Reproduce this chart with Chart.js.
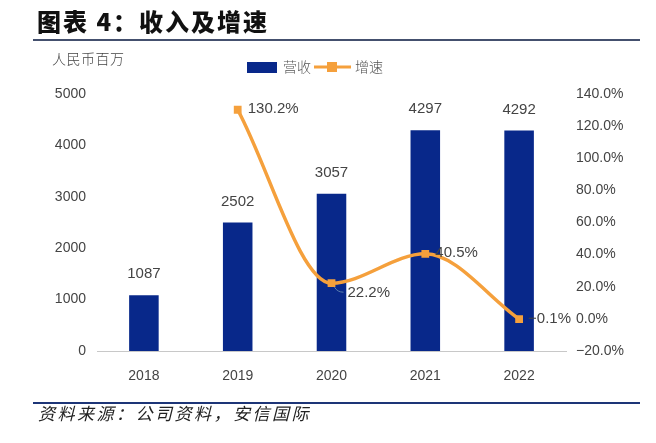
<!DOCTYPE html>
<html>
<head>
<meta charset="utf-8">
<script src="https://cdn.jsdelivr.net/npm/chart.js@4"></script>
<style>
  html, body { margin: 0; padding: 0; background: #fff; }
  #wrap { position: relative; width: 656px; height: 443px; overflow: hidden; }
  #chart { position: absolute; left: 0; top: 0; }
  .title { position: absolute; left: 37px; top: 4px; font: 900 24px "Noto Sans CJK SC"; color: #111; letter-spacing: 2px; line-height: 34px; }
  .rule { position: absolute; left: 33px; width: 607px; height: 2px; }
  .unit { position: absolute; left: 52px; top: 48px; font: 300 14px "Noto Sans CJK SC"; color: #444; letter-spacing: 0.5px; }
  .source { position: absolute; left: 38px; top: 400px; font: italic 17px "Noto Sans CJK SC"; color: #222; letter-spacing: 2.5px; }
</style>
</head>
<body>
<div id="wrap">
  <canvas id="chart" width="656" height="443"></canvas>
  <div class="title">图表 4：收入及增速</div>
  <div class="rule" style="top:39px;background:#44506e;"></div>
  <div class="unit">人民币百万</div>
  <div class="rule" style="top:402px;background:#1d3577;"></div>
  <div class="source">资料来源：公司资料，安信国际</div>
</div>
<script>
const years = ["2018", "2019", "2020", "2021", "2022"];
const revenue = [1087, 2502, 3057, 4297, 4292];
const growth = [null, 130.2, 22.2, 40.5, -0.1];
const leftTicks = [0, 1000, 2000, 3000, 4000, 5000];
const rightTicks = [-20, 0, 20, 40, 60, 80, 100, 120, 140];

const NAVY = "#08288a";
const ORANGE = "#f5a03c";
const TXT = "#444";

// value labels + legend
const labelPlugin = {
    id: "labels",
    afterDatasetsDraw(chart) {
        const ctx = chart.ctx;
        ctx.save();
        ctx.fillStyle = TXT;
        ctx.font = "15px 'Liberation Sans Narrow', 'Liberation Sans'";
        ctx.textAlign = "center";
        ctx.textBaseline = "middle";
        chart.getDatasetMeta(1).data.forEach((bar, i) => {
            ctx.fillText(String(revenue[i]), bar.x, bar.y - 21);
        });

        ctx.textAlign = "left";
        chart.getDatasetMeta(0).data.forEach((pt, i) => {
            if (growth[i] === null) return;
            const txt = growth[i].toFixed(1) + "%";
            if (i === 2) {
                ctx.strokeStyle = "#5b7fae";
                ctx.lineWidth = 1;
                ctx.beginPath();
                ctx.moveTo(pt.x + 3, pt.y + 4);
                ctx.quadraticCurveTo(pt.x + 6, pt.y + 9, pt.x + 12, pt.y + 9);
                ctx.stroke();
                ctx.fillText(txt, pt.x + 16, pt.y + 10);
            } else if (i === 4) {
                ctx.fillText(txt.replace("-", "\u2212"), pt.x + 9, pt.y);
            } else {
                ctx.fillText(txt, pt.x + 10, pt.y - 1);
            }
        });

        // legend
        ctx.fillStyle = NAVY;
        ctx.fillRect(247, 62, 30, 11);
        ctx.fillStyle = "#555";
        ctx.font = "300 14px 'Noto Sans CJK SC'";
        ctx.fillText("营收", 283, 67);
        ctx.strokeStyle = ORANGE;
        ctx.lineWidth = 3;
        ctx.beginPath();
        ctx.moveTo(314, 67);
        ctx.lineTo(351, 67);
        ctx.stroke();
        ctx.fillStyle = ORANGE;
        ctx.fillRect(327, 62, 10, 10);
        ctx.fillStyle = "#555";
        ctx.fillText("增速", 355, 67);
        ctx.restore();
    }
};

new Chart(document.getElementById("chart"), {
    type: "bar",
    data: {
        labels: years,
        datasets: [
            {
                type: "line",
                label: "增速",
                data: growth,
                yAxisID: "y1",
                borderColor: ORANGE,
                backgroundColor: ORANGE,
                borderWidth: 3.5,
                cubicInterpolationMode: "monotone",
                pointStyle: "rect",
                pointRadius: 5.5,
                pointBorderWidth: 0,
                order: 0
            },
            {
                label: "营收",
                data: revenue,
                yAxisID: "y",
                backgroundColor: NAVY,
                barPercentage: 0.315,
                categoryPercentage: 1,
                order: 1
            }
        ]
    },
    options: {
        responsive: false,
        animation: false,
        layout: { padding: { top: 94, left: 0, right: 0, bottom: 0 } },
        plugins: {
            legend: { display: false },
            tooltip: { enabled: false }
        },
        scales: {
            x: {
                grid: { display: false },
                border: { color: "#c8c8c8", width: 1 },
                ticks: { color: TXT, padding: 9, font: { family: "Liberation Sans", size: 14 } },
                afterFit: s => { s.height = 92; }
            },
            y: {
                position: "left",
                min: 0,
                max: 5000,
                grid: { display: false },
                border: { display: false },
                afterBuildTicks: s => { s.ticks = leftTicks.map(v => ({ value: v })); },
                ticks: {
                    color: TXT,
                    padding: 3,
                    font: { family: "Liberation Sans", size: 14 },
                    callback: v => String(v)
                },
                afterFit: s => { s.width = 97; }
            },
            y1: {
                position: "right",
                min: -20,
                max: 140,
                grid: { display: false },
                border: { display: false },
                afterBuildTicks: s => { s.ticks = rightTicks.map(v => ({ value: v })); },
                ticks: {
                    color: TXT,
                    padding: 2,
                    font: { family: "Liberation Sans", size: 14 },
                    callback: v => (v < 0 ? "\u2212" : "") + Math.abs(v).toFixed(1) + "%"
                },
                afterFit: s => { s.width = 90; }
            }
        }
    },
    plugins: [labelPlugin]
});
</script>
</body>
</html>
